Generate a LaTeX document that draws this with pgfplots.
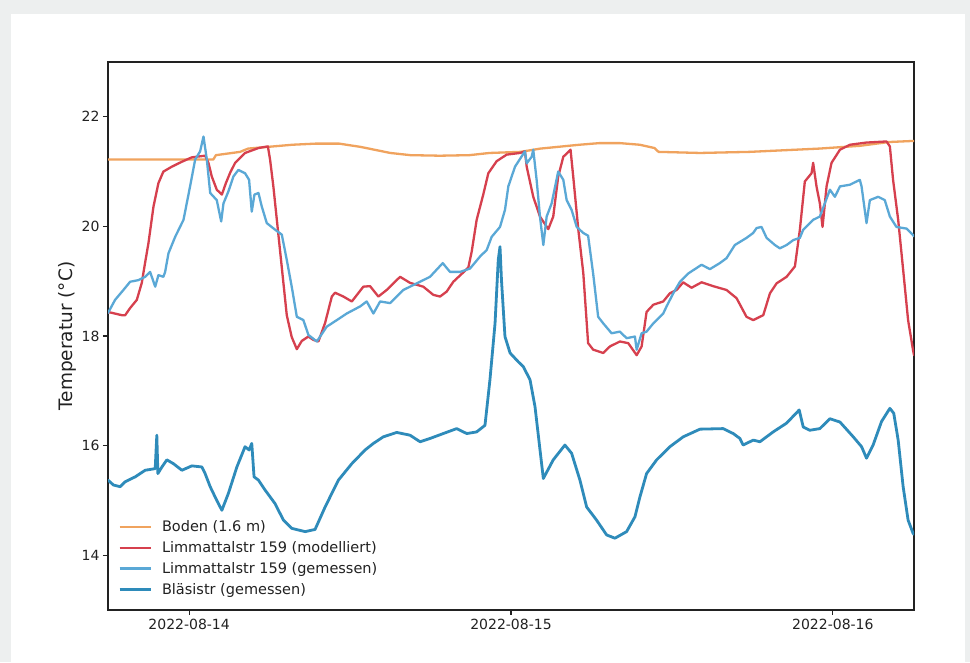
\documentclass[border=0pt]{standalone}
\usepackage{fontspec}
\setmainfont{DejaVu Sans}
\usepackage{pgfplots}
\pgfplotsset{compat=1.18}

\definecolor{pagebg}{RGB}{237,239,239}
\definecolor{boden}{HTML}{F0A35E}
\definecolor{modell}{HTML}{D6404E}
\definecolor{limmat}{HTML}{5AA8D6}
\definecolor{blaesi}{HTML}{2E8BBA}
\definecolor{axcol}{HTML}{222222}

\begin{document}
\begin{tikzpicture}[x=1pt,y=1pt]
\useasboundingbox (0,0) rectangle (970,662);
\fill[pagebg] (0,0) rectangle (970,662);
\fill[white] (11,0) rectangle (965,648);
\begin{axis}[
  at={(108pt,52pt)}, anchor=south west,
  scale only axis, width=806pt, height=548pt,
  xmin=-6.05, xmax=54.05, ymin=13, ymax=23,
  axis line style={axcol, line width=1.2pt},
  xtick={0,24,48},
  xticklabels={2022-08-14,2022-08-15,2022-08-16},
  ytick={14,16,18,20,22},
  tick align=outside, tick pos=left,
  major tick length=5pt,
  every tick/.style={axcol, line width=1.1pt},
  /pgf/number format/assume math mode=true,
  tick label style={font=\fontsize{14}{16}\selectfont, text=axcol},
  xticklabel style={yshift=-1pt},
  ylabel={Temperatur (°C)},
  ylabel style={font=\fontsize{18.5}{20}\selectfont, text=axcol, yshift=-2pt},
  legend style={at={(0.0,0.0)}, anchor=south west, draw=none, fill=none,
    font=\fontsize{14.5}{17}\selectfont, text=axcol,
    row sep=4.4pt, xshift=7pt, yshift=10pt,
    /tikz/every odd column/.append style={column sep=8pt}},
  legend cell align=left,
  legend image code/.code={\draw[#1, line cap=butt] (0pt,0pt) -- (31pt,0pt);},
  every axis plot/.append style={line join=round, line cap=round},
  clip=true,
]
% Boden (1.6 m)
\addplot[boden, line width=2.3pt] coordinates {
(-6.05,21.22) (1.8,21.22) (2.0,21.30) (3.8,21.36) (4.4,21.42) (7.7,21.49) (9.4,21.51)
(11.2,21.51) (12.8,21.45) (15.0,21.34) (16.5,21.30) (18.7,21.29) (20.9,21.30) (22.4,21.34)
(24.7,21.36) (26.2,21.42) (29.1,21.49) (30.6,21.52) (32.1,21.52) (33.6,21.49) (34.7,21.43)
(35.0,21.36) (38.1,21.34) (41.8,21.36) (47.0,21.42) (50.0,21.47) (52.2,21.54) (54.05,21.56)
};
\addlegendentry{Boden (1.6 m)}
% Limmattalstr 159, modelliert
\addplot[modell, line width=2.3pt] coordinates {
(-6.05,18.43) (-5.89,18.43) (-5.02,18.38) (-4.77,18.38) (-4.40,18.51) (-3.90,18.66) (-3.53,18.97)
(-3.33,19.27) (-3.03,19.70) (-2.66,20.36) (-2.29,20.79) (-1.92,21.00) (-1.29,21.09) (-0.54,21.18)
(0.20,21.26) (1.19,21.29) (1.44,21.16) (1.69,20.91) (2.06,20.67) (2.44,20.58) (2.74,20.79)
(3.06,20.98) (3.43,21.16) (4.17,21.34) (5.17,21.43) (5.87,21.46) (6.04,21.21) (6.28,20.73)
(6.54,20.12) (6.91,19.25) (7.28,18.38) (7.65,17.98) (8.03,17.76) (8.40,17.91) (8.89,17.99)
(9.26,17.93) (9.64,17.90) (10.14,18.24) (10.64,18.72) (10.88,18.79) (11.50,18.72) (12.13,18.63)
(12.99,18.90) (13.49,18.91) (14.11,18.72) (14.73,18.84) (15.73,19.08) (16.47,18.97) (17.46,18.90)
(18.21,18.75) (18.71,18.72) (19.20,18.81) (19.70,18.99) (20.44,19.16) (20.82,19.25) (21.07,19.54)
(21.44,20.12) (21.93,20.58) (22.31,20.97) (22.93,21.19) (23.68,21.31) (24.67,21.34) (25.04,21.37)
(25.17,21.09) (25.66,20.54) (26.16,20.18) (26.78,19.95) (27.15,20.18) (27.52,20.91) (27.90,21.27)
(28.44,21.40) (28.64,20.91) (29.02,19.94) (29.39,19.15) (29.75,17.87) (30.13,17.75) (30.88,17.69)
(31.38,17.81) (32.12,17.90) (32.74,17.87) (33.37,17.65) (33.74,17.81) (34.11,18.44) (34.61,18.57)
(35.35,18.63) (35.85,18.78) (36.35,18.84) (36.84,18.98) (37.46,18.88) (38.21,18.98) (39.07,18.91)
(40.07,18.84) (40.82,18.69) (41.56,18.35) (42.06,18.29) (42.81,18.38) (43.31,18.78) (43.80,18.96)
(44.55,19.08) (45.17,19.27) (45.54,19.94) (45.91,20.82) (46.41,20.97) (46.53,21.16) (46.78,20.73)
(47.03,20.42) (47.23,19.99) (47.53,20.73) (47.90,21.16) (48.53,21.40) (49.27,21.49) (50.51,21.53)
(52.00,21.55) (52.25,21.46) (52.49,20.85) (52.87,20.12) (53.24,19.21) (53.61,18.29) (53.98,17.74)
(54.05,17.65)
};
\addlegendentry{Limmattalstr 159 (modelliert)}
% Limmattalstr 159, gemessen
\addplot[limmat, line width=2.3pt] coordinates {
(-6.05,18.42) (-5.52,18.66) (-4.90,18.84) (-4.40,18.99) (-3.78,19.02) (-3.28,19.08) (-2.91,19.17)
(-2.53,18.90) (-2.29,19.11) (-1.92,19.08) (-1.79,19.17) (-1.54,19.51) (-1.04,19.81) (-0.42,20.12)
(0.07,20.73) (0.45,21.22) (0.82,21.37) (1.07,21.64) (1.32,21.22) (1.57,20.61) (2.06,20.48)
(2.39,20.09) (2.56,20.42) (2.93,20.64) (3.30,20.91) (3.67,21.03) (4.17,20.97) (4.47,20.85)
(4.67,20.27) (4.87,20.58) (5.17,20.61) (5.42,20.36) (5.79,20.06) (6.41,19.94) (6.91,19.85)
(7.28,19.39) (7.65,18.90) (8.03,18.35) (8.52,18.29) (8.89,18.02) (9.52,17.90) (10.26,18.17)
(11.01,18.29) (11.75,18.41) (12.75,18.54) (13.24,18.63) (13.74,18.41) (14.24,18.63) (14.98,18.60)
(15.97,18.84) (16.97,18.96) (17.96,19.08) (18.91,19.33) (19.45,19.17) (20.20,19.17) (20.94,19.23)
(21.69,19.45) (22.19,19.57) (22.56,19.81) (23.18,19.99) (23.55,20.30) (23.80,20.73) (24.30,21.09)
(25.04,21.37) (25.17,21.15) (25.54,21.27) (25.66,21.40) (25.91,20.85) (26.16,20.18) (26.41,19.66)
(26.66,20.18) (27.03,20.42) (27.52,21.00) (27.90,20.85) (28.15,20.48) (28.52,20.30) (28.90,19.99)
(29.39,19.88) (29.75,19.83) (30.13,19.13) (30.50,18.35) (30.88,18.23) (31.50,18.05) (32.12,18.08)
(32.62,17.96) (33.24,17.99) (33.37,17.75) (33.74,18.05) (34.11,18.08) (34.61,18.23) (35.35,18.41)
(35.60,18.54) (36.10,18.78) (36.60,18.99) (37.21,19.14) (38.21,19.30) (38.83,19.22) (39.57,19.33)
(40.07,19.42) (40.69,19.66) (41.56,19.79) (42.06,19.88) (42.31,19.97) (42.68,19.99) (43.06,19.79)
(43.68,19.66) (44.05,19.60) (44.55,19.66) (45.05,19.75) (45.54,19.79) (45.79,19.94) (46.53,20.12)
(47.03,20.18) (47.40,20.42) (47.78,20.67) (48.15,20.54) (48.53,20.73) (49.27,20.76) (50.01,20.85)
(50.14,20.73) (50.51,20.06) (50.76,20.48) (51.38,20.54) (51.87,20.48) (52.25,20.18) (52.74,19.99)
(53.49,19.96) (53.98,19.84) (54.05,19.82)
};
\addlegendentry{Limmattalstr 159 (gemessen)}
% Bläsistr, gemessen
\addplot[blaesi, line width=2.8pt] coordinates {
(-6.05,15.37) (-5.64,15.28) (-5.14,15.25) (-4.77,15.34) (-4.02,15.43) (-3.28,15.55) (-2.53,15.58)
(-2.41,16.19) (-2.33,15.49) (-2.03,15.61) (-1.66,15.74) (-1.17,15.67) (-0.54,15.55) (0.20,15.63)
(0.95,15.61) (1.19,15.49) (1.57,15.25) (2.06,15.00) (2.44,14.82) (2.93,15.13) (3.56,15.61)
(4.17,15.98) (4.47,15.92) (4.67,16.04) (4.84,15.43) (5.17,15.37) (5.66,15.19) (6.41,14.94)
(7.03,14.64) (7.65,14.49) (8.65,14.43) (9.39,14.47) (10.14,14.88) (11.13,15.37) (12.13,15.67)
(13.12,15.92) (13.74,16.04) (14.48,16.16) (15.48,16.24) (16.47,16.19) (17.22,16.07) (17.96,16.13)
(18.95,16.22) (19.95,16.31) (20.70,16.22) (21.44,16.25) (22.06,16.37) (22.43,17.20) (22.81,18.23)
(23.05,19.39) (23.18,19.63) (23.29,19.02) (23.55,17.99) (23.93,17.69) (24.54,17.53) (24.92,17.44)
(25.42,17.20) (25.79,16.71) (26.41,15.40) (27.15,15.74) (28.02,16.01) (28.52,15.86) (29.14,15.37)
(29.64,14.88) (30.38,14.64) (31.13,14.37) (31.75,14.31) (32.62,14.43) (33.24,14.70) (33.61,15.06)
(34.11,15.49) (34.86,15.74) (35.85,15.98) (36.84,16.16) (38.09,16.30) (39.82,16.31) (40.57,16.22)
(41.07,16.13) (41.31,16.01) (42.06,16.10) (42.56,16.07) (43.55,16.25) (44.55,16.41) (45.49,16.65)
(45.79,16.34) (46.28,16.28) (47.03,16.31) (47.78,16.49) (48.53,16.43) (49.52,16.16) (50.14,15.98)
(50.51,15.77) (51.00,16.01) (51.63,16.44) (52.25,16.68) (52.54,16.59) (52.87,16.10) (53.24,15.25)
(53.61,14.64) (53.98,14.40) (54.05,14.38)
};
\addlegendentry{Bläsistr (gemessen)}
\end{axis}
\end{tikzpicture}
\end{document}
